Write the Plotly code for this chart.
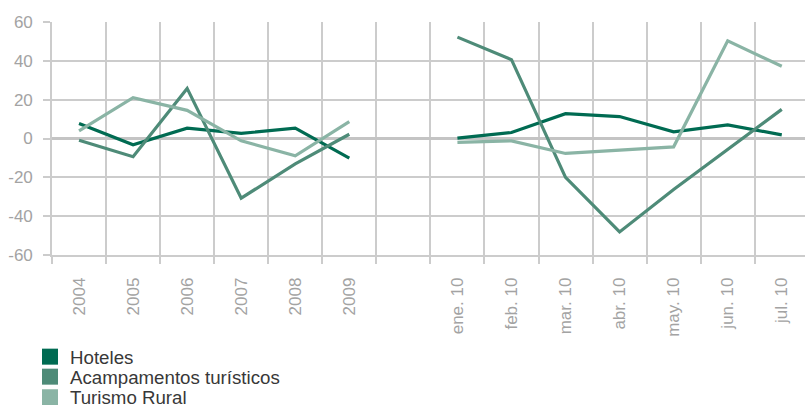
import plotly.graph_objects as go

categories = ["2004", "2005", "2006", "2007", "2008", "2009", " ",
              "ene. 10", "feb. 10", "mar. 10", "abr. 10", "may. 10", "jun. 10", "jul. 10"]

hoteles = [7.7, -3.2, 5.3, 2.6, 5.3, -10.1, None,
           0.2, 3.1, 12.8, 11.3, 3.4, 7.0, 1.9]
acampamentos = [-0.9, -9.4, 25.8, -30.7, -13.1, 2.2, None,
                52.2, 40.6, -20.0, -48.1, -26.3, -5.6, 15.0]
turismo_rural = [3.9, 21.0, 14.5, -1.2, -8.9, 8.7, None,
                 -2.0, -1.2, -7.7, -6.0, -4.3, 50.3, 37.2]

y_tick_values = [-60, -40, -20, 0, 20, 40, 60]
y_tick_labels = ["-60", "-40", "-20", "0", "20", "40", "60"]

series_names = ["Hoteles", "Acampamentos turísticos", "Turismo Rural"]
series_values = [hoteles, acampamentos, turismo_rural]
colors = ["#006b52", "#4e8b78", "#8ab4a5"]
legend_ids = ["legend", "legend2", "legend3"]
legend_y_px = [357, 377, 397.5]

FONT = "Liberation Sans, Arial, sans-serif"
GRID = "#cccccc"
TICKTXT = "#a3a3a3"

fig = go.Figure()
for name, vals, col in zip(series_names, series_values, colors):
    fig.add_trace(go.Scatter(
        x=categories, y=vals, mode="lines", name=name,
        line=dict(color=col, width=3.2), connectgaps=False,
        showlegend=False, hoverinfo="skip"))

for name, col, lid in zip(series_names, colors, legend_ids):
    fig.add_trace(go.Scatter(
        x=[None], y=[None], mode="markers", name=name,
        marker=dict(symbol="square", size=16, color=col, line=dict(width=0)),
        showlegend=True, legend=lid))

H = 405
legend_common = dict(
    font=dict(family=FONT, size=18.7, color="#383838"),
    bgcolor="rgba(0,0,0,0)", borderwidth=0,
    xref="container", yref="container",
    xanchor="left", yanchor="middle",
)
layout_legends = {}
for lid, ypx in zip(legend_ids, legend_y_px):
    layout_legends[lid] = dict(legend_common, x=30 / 805, y=1 - ypx / H)

fig.update_layout(
    width=805, height=405,
    margin=dict(l=52, r=0, t=22, b=150, autoexpand=False),
    paper_bgcolor="white", plot_bgcolor="white",
    font=dict(family=FONT, size=17, color=TICKTXT),
    xaxis=dict(
        type="category", categoryorder="array", categoryarray=categories,
        range=[-0.5, 13.43], tickson="boundaries",
        showgrid=True, gridcolor=GRID, gridwidth=1.6,
        ticks="outside", ticklen=7, tickcolor=GRID, tickwidth=1.6,
        showline=True, linecolor=GRID, linewidth=1.6,
        tickangle=-90, ticklabelstandoff=14,
        tickfont=dict(family=FONT, size=17, color=TICKTXT),
        fixedrange=True,
    ),
    yaxis=dict(
        range=[-60, 60], tickmode="array",
        tickvals=y_tick_values, ticktext=y_tick_labels,
        showgrid=True, gridcolor=GRID, gridwidth=1.6,
        zeroline=True, zerolinecolor="#c4c4c4", zerolinewidth=3.2,
        ticks="outside", ticklen=7, tickcolor=GRID, tickwidth=1.6,
        showline=True, linecolor=GRID, linewidth=1.6,
        ticklabelstandoff=7,
        tickfont=dict(family=FONT, size=17, color=TICKTXT),
        fixedrange=True,
    ),
    **layout_legends,
)

fig.write_html("out.html", config={"displayModeBar": False},
               post_script="document.body.style.margin='0px';")
